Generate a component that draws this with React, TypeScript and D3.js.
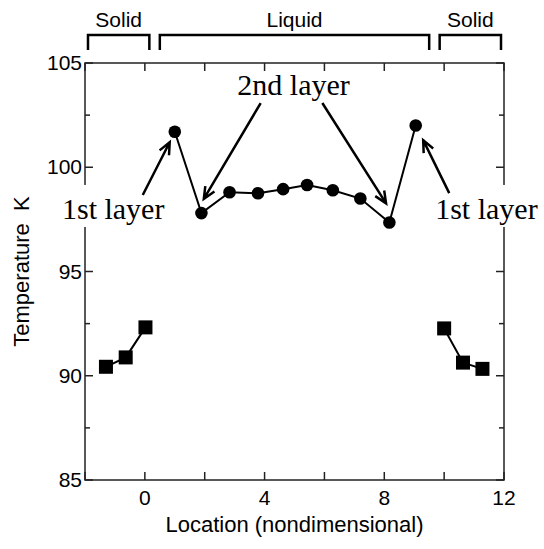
import React from "react";
import * as d3 from "d3";

// liquid layers (circles) and solid walls (squares)
const liquidX = [1.0, 1.89, 2.83, 3.78, 4.62, 5.42, 6.28, 7.2, 8.17, 9.05];
const liquidT = [101.7, 97.8, 98.8, 98.75, 98.95, 99.15, 98.9, 98.5, 97.35, 102.0];
const solidLeftX = [-1.3, -0.64, 0.02];
const solidLeftT = [90.43, 90.88, 92.32];
const solidRightX = [10.0, 10.63, 11.28];
const solidRightT = [92.27, 90.63, 90.33];

const xTickLabels = [0, 4, 8, 12];
const yTickLabels = [85, 90, 95, 100, 105];

const phaseLabels = ["Solid", "Liquid", "Solid"];
const phaseFrom = [-1.9, 0.5, 9.85];
const phaseTo = [0.15, 9.5, 11.9];

export default function App() {
  const width = 544;
  const height = 549;
  const margin = { top: 63, right: 40, bottom: 69, left: 85 };

  const x = d3.scaleLinear().domain([-2, 12]).range([margin.left, width - margin.right]);
  const y = d3.scaleLinear().domain([85, 105]).range([height - margin.bottom, margin.top]);

  const x0 = x.range()[0], x1 = x.range()[1];
  const y0 = y.range()[0], y1 = y.range()[1];

  const line = d3.line<[number, number]>().x(d => x(d[0])).y(d => y(d[1]));
  const liquid = liquidX.map((v, i) => [v, liquidT[i]] as [number, number]);
  const solidL = solidLeftX.map((v, i) => [v, solidLeftT[i]] as [number, number]);
  const solidR = solidRightX.map((v, i) => [v, solidRightT[i]] as [number, number]);

  const xTicks = d3.range(-2, 12.01, 2);
  const yMinor = d3.range(85, 105.01, 2.5);

  // arrows: [tailX, tailT, tipX, tipT]
  const arrows = [
    [-0.07, 98.67, 0.83, 101.2],
    [3.87, 103.08, 1.97, 98.48],
    [5.93, 103.08, 8.06, 98.27],
    [10.17, 98.76, 9.3, 101.3],
  ];

  const arrowPath = (a: number[]) => {
    const tx = x(a[0]), ty = y(a[1]), hx = x(a[2]), hy = y(a[3]);
    const ang = Math.atan2(hy - ty, hx - tx);
    const len = 13, spread = 0.42;
    const p1 = [hx - len * Math.cos(ang - spread), hy - len * Math.sin(ang - spread)];
    const p2 = [hx - len * Math.cos(ang + spread), hy - len * Math.sin(ang + spread)];
    return `M${tx},${ty}L${hx},${hy}M${p1[0]},${p1[1]}L${hx},${hy}L${p2[0]},${p2[1]}`;
  };

  const sans = "'Liberation Sans', Arial, sans-serif";
  const serif = "'Liberation Serif', 'Times New Roman', serif";
  const ink = "#000";

  const labelBase = y(97.52);

  return (
    <svg width={width} height={height} style={{ position: "absolute", left: 0, top: 0 }}>
      <rect width={width} height={height} fill="#fff" />

      {/* phase brackets */}
      {phaseLabels.map((p, i) => (
        <g key={i}>
          <path
            d={`M${x(phaseFrom[i])},50V35H${x(phaseTo[i])}V50`}
            fill="none" stroke={ink} strokeWidth={2.5}
          />
          <text x={(x(phaseFrom[i]) + x(phaseTo[i])) / 2} y={27} textAnchor="middle"
            fontFamily={sans} fontSize={21}>{p}</text>
        </g>
      ))}

      {/* frame */}
      <rect x={x0} y={y1} width={x1 - x0} height={y0 - y1} fill="none" stroke="#222" strokeWidth={1.5} />

      {/* x ticks */}
      {xTicks.map(t => (
        <g key={"x" + t}>
          <line x1={x(t)} x2={x(t)} y1={y0} y2={y0 - 8} stroke="#222" strokeWidth={1.5} />
          <line x1={x(t)} x2={x(t)} y1={y1} y2={y1 + 8} stroke="#222" strokeWidth={1.5} />
        </g>
      ))}
      {xTickLabels.map(t => (
        <text key={"xl" + t} x={x(t)} y={y0 + 25} textAnchor="middle" fontFamily={sans} fontSize={21}>{t}</text>
      ))}

      {/* y ticks */}
      {yMinor.map(t => {
        const len = t % 5 === 0 ? 8 : 5;
        return (
          <g key={"y" + t}>
            <line x1={x0} x2={x0 + len} y1={y(t)} y2={y(t)} stroke="#222" strokeWidth={1.5} />
            <line x1={x1} x2={x1 - len} y1={y(t)} y2={y(t)} stroke="#222" strokeWidth={1.5} />
          </g>
        );
      })}
      {yTickLabels.map(t => (
        <text key={"yl" + t} x={x0 - 3} y={y(t) + 7} textAnchor="end" fontFamily={sans} fontSize={21}>{t}</text>
      ))}

      {/* axis titles */}
      <text x={(x0 + x1) / 2} y={y0 + 52} textAnchor="middle" fontFamily={sans} fontSize={22}>
        Location (nondimensional)
      </text>
      <text transform={`translate(29,${(y0 + y1) / 2}) rotate(-90)`} textAnchor="middle"
        fontFamily={sans} fontSize={22} style={{ whiteSpace: "pre" }}>
        {"Temperature  K"}
      </text>

      {/* data */}
      <path d={line(solidL) || ""} fill="none" stroke={ink} strokeWidth={2} />
      <path d={line(solidR) || ""} fill="none" stroke={ink} strokeWidth={2} />
      <path d={line(liquid) || ""} fill="none" stroke={ink} strokeWidth={2} />
      {[...solidL, ...solidR].map((d, i) => (
        <rect key={"s" + i} x={x(d[0]) - 7} y={y(d[1]) - 7} width={14} height={14} fill={ink} />
      ))}
      {liquid.map((d, i) => (
        <circle key={"c" + i} cx={x(d[0])} cy={y(d[1])} r={6.3} fill={ink} />
      ))}

      {/* annotations */}
      <rect x={x(-2.77) - 2} y={labelBase - 34} width={108} height={42} fill="#fff" />
      <text x={x(-2.77)} y={labelBase} fontFamily={serif} fontSize={30}>1st layer</text>
      <rect x={x(9.7) - 2} y={labelBase - 34} width={108} height={42} fill="#fff" />
      <text x={x(9.7)} y={labelBase} fontFamily={serif} fontSize={30}>1st layer</text>
      <text x={x(4.97)} y={y(103.47)} textAnchor="middle" fontFamily={serif} fontSize={30}>2nd layer</text>
      {arrows.map((a, i) => (
        <path key={"a" + i} d={arrowPath(a)} fill="none" stroke={ink} strokeWidth={2.5} />
      ))}
    </svg>
  );
}
